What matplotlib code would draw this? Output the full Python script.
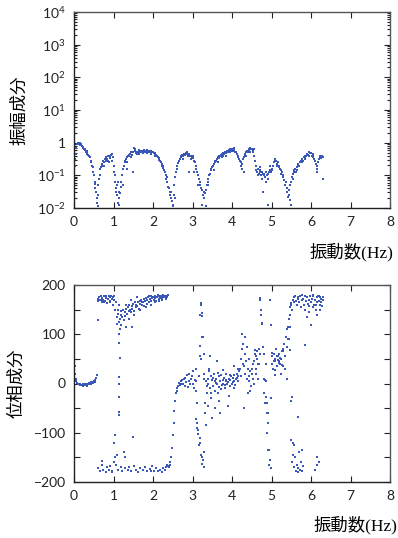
import numpy as np
import matplotlib
matplotlib.use("Agg")
import matplotlib.pyplot as plt
from matplotlib.ticker import FixedLocator, MultipleLocator, LogLocator, NullFormatter

plt.rcParams['font.family'] = ['Lato', 'Noto Sans CJK JP', 'DejaVu Sans']
plt.rcParams['mathtext.fontset'] = 'custom'
plt.rcParams['mathtext.rm'] = 'Lato'

# ---------------- data ----------------
# frequency grid (Hz) of the main amplitude/phase series
freq_start, freq_step, freq_count = 0.0, 0.02, 316

# log10 of amplitude, one value per grid frequency (0.00 .. 6.30)
amp_log = [
    -1.2, -0.7, -0.35, -0.15, -0.05,
    -0.02, -0.05, 0.0, -0.06, -0.08,
    -0.1, -0.15, -0.13, -0.2, -0.22,
    -0.28, -0.3, -0.27, -0.38, -0.4,
    -0.45, -0.55, -0.6, -0.7, -0.9,
    -1.0, -1.25, -1.2, -1.5, -1.85,
    -1.6, -1.3, -1.1, -0.8, -0.75,
    -0.7, -0.65, -0.55, -0.6, -0.5,
    -0.55, -0.45, -0.5, -0.42, -0.6,
    -0.4, -0.48, -0.38, -0.55, -0.45,
    -0.7, -0.9, -1.2, -1.5, -1.3,
    -1.6, -1.85, -1.7, -1.55, -1.35,
    -1.2, -1.0, -0.8, -0.7, -0.6,
    -0.55, -0.5, -0.45, -0.42, -0.38,
    -0.4, -0.35, -0.3, -0.38, -0.28,
    -0.3, -0.15, -0.25, -0.32, -0.28,
    -0.35, -0.3, -0.22, -0.3, -0.26,
    -0.3, -0.25, -0.32, -0.28, -0.22,
    -0.27, -0.3, -0.25, -0.33, -0.28,
    -0.26, -0.3, -0.27, -0.32, -0.28,
    -0.3, -0.32, -0.35, -0.33, -0.38,
    -0.4, -0.45, -0.48, -0.52, -0.55,
    -0.6, -0.65, -0.7, -0.78, -0.85,
    -0.9, -1.0, -1.1, -1.2, -1.35,
    -1.4, -1.5, -1.6, -1.7, -1.8,
    -1.9, -1.6, -1.3, -1.05, -0.9,
    -0.8, -0.7, -0.62, -0.55, -0.5,
    -0.45, -0.42, -0.38, -0.4, -0.36,
    -0.35, -0.38, -0.33, -0.36, -0.4,
    -0.35, -0.38, -0.42, -0.4, -0.45,
    -0.4, -0.48, -0.55, -0.6, -0.7,
    -0.8, -0.9, -1.0, -1.1, -1.2,
    -1.3, -1.4, -1.45, -1.6, -1.5,
    -1.7, -1.55, -1.45, -1.3, -1.2,
    -1.1, -1.0, -0.95, -0.85, -0.8,
    -0.75, -0.7, -0.65, -0.6, -0.55,
    -0.55, -0.5, -0.45, -0.48, -0.4,
    -0.42, -0.38, -0.35, -0.4, -0.33,
    -0.35, -0.3, -0.28, -0.32, -0.25,
    -0.28, -0.22, -0.26, -0.2, -0.24,
    -0.2, -0.25, -0.18, -0.22, -0.28,
    -0.3, -0.35, -0.4, -0.45, -0.5,
    -0.55, -0.6, -0.7, -0.65, -0.5,
    -0.45, -0.4, -0.35, -0.3, -0.25,
    -0.3, -0.22, -0.2, -0.15, -0.2,
    -0.18, -0.25, -0.3, -0.4, -0.55,
    -0.7, -0.85, -0.9, -1.0, -0.95,
    -0.9, -0.85, -1.0, -0.9, -0.95,
    -1.0, -0.95, -1.05, -0.9, -1.0,
    -0.95, -1.1, -0.9, -0.85, -0.9,
    -0.85, -0.8, -0.7, -0.6, -0.55,
    -0.5, -0.55, -0.65, -0.6, -0.75,
    -0.7, -0.8, -0.85, -0.9, -1.0,
    -1.05, -1.15, -1.3, -1.2, -1.4,
    -1.5, -1.65, -1.45, -1.75, -1.3,
    -1.2, -1.05, -0.95, -0.9, -0.85,
    -0.8, -0.9, -0.75, -0.7, -0.65,
    -0.7, -0.6, -0.55, -0.58, -0.5,
    -0.55, -0.45, -0.5, -0.42, -0.4,
    -0.35, -0.38, -0.3, -0.4, -0.33,
    -0.32, -0.4, -0.36, -0.45, -0.5,
    -0.55, -0.65, -0.8, -0.7, -0.6,
    -0.5, -0.45, -0.4, -0.48, -0.42,
    -0.45,
]

# additional amplitude points (frequency, log10 amplitude)
amp_extra_f = [0.0, 0.0, 0.0, 0.01, 0.0, 0.02,
               0.13, 0.17, 0.23, 0.27, 0.33, 0.47, 0.53, 0.57, 0.61, 0.65,
               0.75, 0.85, 0.95, 1.03, 1.07, 1.13, 1.15, 1.11, 1.23,
               1.35, 1.45, 1.55, 1.65, 1.75, 1.85, 1.95, 2.05, 2.15, 1.5, 1.35,
               2.25, 2.35, 2.45, 2.51, 2.55,
               2.75, 2.85, 2.95, 3.05, 2.9, 3.15, 3.25, 3.35, 3.3, 3.4,
               3.55, 3.65, 3.75, 3.85, 3.95, 4.05, 4.15, 4.25, 4.35, 4.45, 4.55, 4.65, 4.3,
               4.75, 4.85, 4.95, 4.78, 4.9, 4.72,
               5.05, 5.15, 5.25, 5.35, 5.45, 5.5, 5.55, 5.65, 5.75, 5.85, 5.95,
               6.05, 6.15, 6.25, 6.3]
amp_extra_log = [-0.6, -1.0, -1.4, -0.8, -1.9, -0.5,
                 -0.05, -0.03, -0.12, -0.2, -0.35, -0.75, -1.4, -1.7, -1.95, -1.0,
                 -0.7, -0.55, -0.35, -1.0, -1.4, -1.9, -1.5, -1.2, -1.3,
                 -0.6, -0.45, -0.2, -0.35, -0.3, -0.22, -0.35, -0.4, -0.5, -0.9, -0.8,
                 -0.7, -1.05, -1.5, -1.95, -1.7,
                 -0.5, -0.3, -0.5, -0.9, -0.9, -1.3, -1.9, -1.95, -1.5, -1.3,
                 -0.85, -0.6, -0.45, -0.4, -0.3, -0.15, -0.45, -0.8, -0.4, -0.28, -0.2, -0.8, -0.9,
                 -1.1, -1.2, -0.7, -1.5, -1.9, -0.75,
                 -0.7, -0.7, -0.95, -1.3, -1.6, -1.9, -1.1, -0.85, -0.6, -0.45, -0.3,
                 -0.4, -0.9, -0.45, -1.1]

# phase (degrees), one value per grid frequency (0.00 .. 6.30)
phase_main = [
    40, 20, 10, 5, 2,
    0, -2, -3, 0, -4,
    -3, -5, -2, -4, -1,
    -3, -5, 0, -2, 2,
    0, 3, -1, 4, 2,
    5, 3, 8, 12, 18,
    172, 168, 175, 170, 177,
    165, 174, 170, 178, 168,
    173, 176, 163, 171, 178,
    175, 168, 177, 172, 160,
    178, 170, 150, 165, 135,
    120, 142, 160, 130, 148,
    140, 135, 150, 128, 145,
    138, 152, 142, 155, 147,
    160, 150, 145, 158, 152,
    162, 148, 165, 155, 160,
    158, 166, 152, 168, 162,
    170, 160, 165, 172, 158,
    168, 174, 162, 170, 176,
    165, 172, 178, 168, 174,
    176, 170, 178, 173, 168,
    175, 179, 172, 177, 174,
    178, 173, 176, 179, 175,
    177, 174, 178, 176, 179,
    -170, -165, -160, -150, -130,
    -105, -80, -55, -35, -20,
    -15, -10, -5, 2, -3,
    5, -2, 8, 0, 10,
    -5, 12, 3, 18, -8,
    6, 20, -2, 10, 15,
    0, 25, -10, 8, -15,
    5, -80, -95, 15, -120,
    140, 160, -150, 95, 60,
    20, -40, 5, -20, 10,
    0, 25, -10, 15, -30,
    8, -5, 20, -15, 5,
    10, 0, -20, 15, -8,
    5, 18, -3, 8, 0,
    12, -10, 5, 20, -2,
    3, 10, -5, 8, 15,
    0, 12, 5, 18, -3,
    10, 20, 5, 15, 25,
    30, 15, 50, 70, 40,
    35, 95, 20, 45, 10,
    30, 5, 50, 25, -5,
    20, 40, 10, 45, 60,
    30, 55, 65, 40, 70,
    60, 170, 140, 120, 75,
    10, -20, -40, 5, -60,
    -80, -135, -165, 170, -30,
    40, 55, 30, 60, 45,
    50, 70, 35, 55, 45,
    60, 40, 50, 65, 35,
    70, 80, 55, 95, 75,
    110, 90, 130, 115, 155,
    160, 150, 170, 175, 165,
    178, 168, 160, 175, 172,
    165, 178, 155, 170, 180,
    172, 160, 178, 150, 168,
    175, 162, 145, 170, 178,
    165, 172, 155, 178, 160,
    170, 150, 175, 165, 178,
    168, 176, 160, 172, 158,
    170,
]

# scattered phase points near 0 Hz
phase_zero_f = [0.0, 0.0, 0.01, 0.0, 0.01, 0.0, 0.02, 0.0, 0.01]
phase_zero_v = [170, 95, -20, -50, -70, -100, 35, -140, 60]

# lower (-180) branch between 0.6 and 2.4 Hz
phase_low_f = [0.62, 0.66, 0.7, 0.74, 0.8, 0.84, 0.88, 0.92, 0.96, 1.0, 1.04, 1.06,
               1.02, 1.05, 1.08, 1.12, 1.18, 1.22, 1.26, 1.28, 1.3, 1.36, 1.4, 1.45,
               1.5, 1.52, 1.58, 1.62, 1.68, 1.74, 1.8, 1.86, 1.92, 1.98, 2.02, 2.08,
               2.12, 2.18, 2.22, 2.26, 2.3, 2.34, 2.38, 2.36, 0.95, 0.72, 1.95]
phase_low_v = [-172, -178, -165, -175, -180, -170, -176, -168, -178, -160, -150, -165,
               -120, -105, -145, -175, -170, -178, -140, -150, -172, -176, -170, -178,
               -108, -168, -175, -180, -172, -176, -170, -178, -174, -168, -177, -172,
               -178, -175, -180, -172, -176, -170, -168, -165, -180, -158, -177]

# transition points around 1.15 Hz
phase_mid_f = [1.14, 1.15, 1.13, 1.16, 1.15, 1.14, 1.15, 1.14, 1.15, 1.16, 1.12, 1.18]
phase_mid_v = [125, 100, 82, 52, 14, -2, -27, -58, -64, 110, 150, 118]

# extra points of the upper (+180) branch, 0.6 - 2.4 Hz
phase_up_f = [0.6, 0.64, 0.68, 0.76, 0.82, 0.86, 0.92, 0.98,
              1.32, 1.38, 1.44, 1.52, 1.6, 1.66, 1.72, 1.82, 1.9, 1.96, 2.04, 2.14,
              2.24, 2.34, 1.48, 1.32]
phase_up_v = [128, 176, 170, 165, 178, 172, 166, 175,
              160, 130, 170, 140, 175, 150, 166, 155, 178, 160, 165, 168,
              170, 172, 115, 115]

# scattered points 3.0 - 4.7 Hz
phase_sc_f = [3.22, 3.24, 3.25, 3.23, 3.2, 3.22, 3.18, 3.1, 3.12, 3.15, 3.17, 3.2,
              3.22, 3.24, 3.26, 3.3, 3.32, 3.35, 3.38, 3.28, 3.12, 3.08,
              3.3, 3.36, 3.42, 3.46, 3.52, 3.56, 3.6, 3.64, 3.66, 3.72, 3.76, 3.82,
              3.86, 3.92, 3.96, 4.02, 4.06, 4.12, 4.16, 3.5, 3.7, 3.45, 3.62, 3.9, 4.04,
              4.25, 4.28, 4.32, 4.38, 4.42, 4.46, 4.5, 4.55, 4.6, 4.64, 4.68, 4.3,
              4.4, 4.58, 4.66]
phase_sc_v = [163, 137, 143, 95, 76, 50, 55, -73, -90, -103, -125, -110,
              -145, -163, -155, -140, -60, -84, -45, -170, -40, 30,
              10, -5, 30, -20, 12, -50, 2, 22, -35, -12, 28, -4,
              8, -25, 18, 4, -10, 12, 30, -70, -60, 55, 45, -45, 35,
              100, 80, 60, 75, 15, -15, 30, 0, 20, 50, 40, -50,
              -20, 68, 10]

# scattered points 4.7 - 6.3 Hz
phase_hi_f = [4.72, 4.74, 4.73, 4.76, 4.78, 4.84, 4.86, 4.88, 4.9, 4.92, 4.94, 4.96,
              4.98, 4.96, 4.98, 4.88, 4.85, 4.8,
              5.02, 5.06, 5.1, 5.14, 5.16, 5.18, 5.2, 5.22, 5.26, 5.3, 5.34, 5.12,
              5.24, 5.38, 5.08,
              5.42, 5.44, 5.46, 5.48, 5.5, 5.52, 5.5, 5.5, 5.52, 5.54,
              5.55, 5.58, 5.6, 5.62, 5.64, 5.66, 5.68, 5.7, 5.72, 5.74, 5.76, 5.78,
              5.8, 5.66, 5.58,
              5.85, 6.0, 5.9, 6.06, 6.14, 6.2, 6.26, 6.3, 6.12, 6.24, 5.96,
              6.1, 6.14, 6.16, 6.2]
phase_hi_v = [173, 149, 139, 123, 74, 7, -27, -40, -60, -80, -135, -155,
              -172, 170, 119, -100, 40, 60,
              62, 45, 28, 55, 48, 60, 42, 52, 38, 65, 30, 70,
              20, 10, 18,
              115, 90, 68, 140, 163, -27, -35, -115, -160, -145,
              -120, -170, -150, -178, -165, -180, -172, -140, -175, -160, -178, -135,
              -168, -68, -125,
              78, 119, 135, 180, 140, 178, 165, 175, 160, 150, 158,
              -175, -150, -165, -160]

# axis labels / ticks
amp_ylabel = "振幅成分"
phase_ylabel = "位相成分"
xlabel = "振動数(Hz)"
x_ticks = [0, 1, 2, 3, 4, 5, 6, 7, 8]
amp_ticks = [1e-2, 1e-1, 1, 1e1, 1e2, 1e3, 1e4]
amp_tick_labels = [r"$\mathregular{10^{-2}}$", r"$\mathregular{10^{-1}}$", "1",
                   r"$\mathregular{10^{1}}$", r"$\mathregular{10^{2}}$",
                   r"$\mathregular{10^{3}}$", r"$\mathregular{10^{4}}$"]
phase_ticks = [-200, -100, 0, 100, 200]

# ---------------- plot ----------------
freq = freq_start + freq_step * np.arange(freq_count)
color = "#3a58b8"
ms = 1.6

fig = plt.figure(figsize=(3.98, 5.38), dpi=100)
ax1 = fig.add_axes([74 / 398, 1 - 208 / 538, 316 / 398, 196 / 538])
ax2 = fig.add_axes([74 / 398, 1 - 482 / 538, 316 / 398, 197 / 538])

ax1.plot(freq, 10 ** np.array(amp_log), ls="none", marker="s", ms=ms, mew=0, color=color)
ax1.plot(amp_extra_f, 10 ** np.array(amp_extra_log), ls="none", marker="s", ms=ms, mew=0, color=color)
ax1.set_yscale("log")
ax1.set_ylim(1e-2, 1e4)
ax1.set_yticks(amp_ticks)
ax1.set_yticklabels(amp_tick_labels)
ax1.yaxis.set_minor_locator(LogLocator(base=10, subs=np.arange(2, 10)))
ax1.yaxis.set_minor_formatter(NullFormatter())

ax2.plot(freq, phase_main, ls="none", marker="s", ms=ms, mew=0, color=color)
for fx, fv in [(phase_zero_f, phase_zero_v), (phase_low_f, phase_low_v),
               (phase_mid_f, phase_mid_v), (phase_up_f, phase_up_v),
               (phase_sc_f, phase_sc_v), (phase_hi_f, phase_hi_v)]:
    ax2.plot(fx, fv, ls="none", marker="s", ms=ms, mew=0, color=color)
ax2.set_ylim(-200, 200)
ax2.set_yticks(phase_ticks)
ax2.yaxis.set_minor_locator(MultipleLocator(50))

for ax in (ax1, ax2):
    ax.set_xlim(0, 8)
    ax.set_xticks(x_ticks)
    ax.tick_params(which="both", direction="in", top=True, right=True,
                   labelsize=10, pad=6, colors="#222222", width=0.8)
    ax.tick_params(which="major", length=4)
    ax.tick_params(which="minor", length=2.5)
    if ax is ax2:
        ax.tick_params(which="minor", length=4)
    for s in ax.spines.values():
        s.set_color("#555555")
        s.set_linewidth(1.0)
    ax.spines["left"].set_color("#222222")
    ax.spines["bottom"].set_color("#222222")

ax1.set_ylabel(amp_ylabel, fontsize=12.5, family=["Noto Sans CJK JP"], labelpad=6)
ax2.set_ylabel(phase_ylabel, fontsize=12.5, family=["Noto Sans CJK JP"], labelpad=6)

xfam = ["Liberation Serif", "Noto Sans CJK JP"]
fig.text(393 / 398, 1 - 252 / 538, xlabel, ha="right", va="center", fontsize=12.5, family=xfam)
fig.text(397 / 398, 1 - 525 / 538, xlabel, ha="right", va="center", fontsize=12.5, family=xfam)

fig.savefig("out.png", dpi=100)
